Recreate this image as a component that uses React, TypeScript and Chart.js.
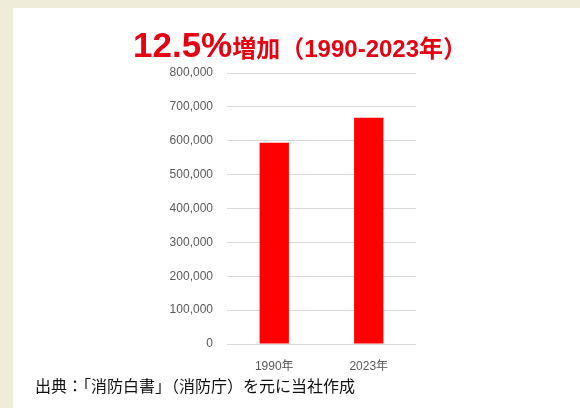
import React, { useEffect, useRef } from "react";
import { Chart, registerables } from "chart.js";

Chart.register(...registerables);

const categories: string[] = ["1990年", "2023年"];
const values: number[] = [594000, 668000];
const yTicks: number[] = [0, 100000, 200000, 300000, 400000, 500000, 600000, 700000, 800000];
const titleMain = "12.5%";
const titleSub = "増加（1990-2023年）";
const sourceText = "出典：「消防白書」（消防庁）を元に当社作成";

export default function App() {
  const ref = useRef<HTMLCanvasElement | null>(null);

  useEffect(() => {
    if (!ref.current) return;
    const chart = new Chart(ref.current, {
      type: "bar",
      data: {
        labels: categories,
        datasets: [
          {
            data: values,
            backgroundColor: "#FF0000",
            borderWidth: 0,
            barPercentage: 0.31,
            categoryPercentage: 1,
          },
        ],
      },
      options: {
        animation: false,
        responsive: false,
        maintainAspectRatio: false,
        layout: { padding: { left: 0, right: 164, top: 73, bottom: 24 } },
        plugins: { legend: { display: false }, tooltip: { enabled: false }, title: { display: false } },
        scales: {
          x: {
            grid: { display: false },
            border: { display: false },
            ticks: {
              color: "#595959",
              font: { family: "'Liberation Sans', 'Noto Sans CJK JP', sans-serif", size: 12 },
              padding: 7,
            },
            afterFit: (s: any) => {
              s.height = 40;
            },
          },
          y: {
            min: yTicks[0],
            max: yTicks[yTicks.length - 1],
            afterBuildTicks: (s: any) => {
              s.ticks = yTicks.map((v) => ({ value: v }));
            },
            grid: { color: "#D9D9D9", lineWidth: 1, drawTicks: false },
            border: { display: false },
            ticks: {
              color: "#595959",
              font: { family: "'Liberation Sans', sans-serif", size: 12 },
              padding: 14,
              callback: (v: any) => Number(v).toLocaleString("en-US"),
            },
            afterFit: (s: any) => {
              s.width = 227;
            },
          },
        },
      },
    });
    return () => chart.destroy();
  }, []);

  return (
    <div style={{ position: "fixed", left: 0, top: 0, width: 580, height: 408, background: "#EFECDA", overflow: "hidden" }}>
      <div style={{ position: "absolute", left: 13, top: 8, width: 600, height: 420, background: "#FFFFFF" }} />
      <canvas ref={ref} width={580} height={408} style={{ position: "absolute", left: 0, top: 0, width: 580, height: 408 }} />
      <div
        style={{
          position: "absolute",
          left: 133,
          top: 25,
          whiteSpace: "nowrap",
          color: "#E60012",
          fontWeight: 700,
          fontFamily: "'Liberation Sans', 'Noto Sans CJK JP', sans-serif",
          lineHeight: "40px",
        }}
      >
        <span style={{ fontSize: 35 }}>{titleMain}</span>
        <span style={{ fontSize: 24 }}>{titleSub}</span>
      </div>
      <div
        style={{
          position: "absolute",
          left: 35,
          top: 373,
          whiteSpace: "nowrap",
          color: "#111111",
          fontFamily: "'Noto Sans CJK JP', sans-serif",
          fontSize: 16,
          lineHeight: "24px",
        }}
      >
        {sourceText}
      </div>
    </div>
  );
}
